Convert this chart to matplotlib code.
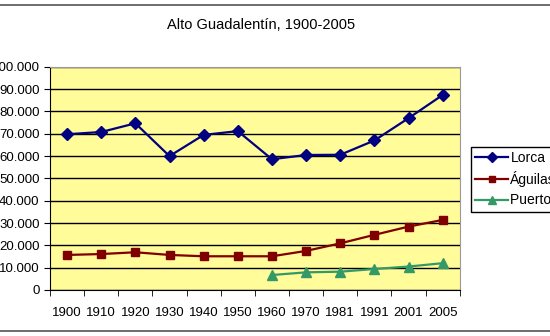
import matplotlib.pyplot as plt
from matplotlib.lines import Line2D

# Poblacion del Alto Guadalentin por municipio
anios = ["1900", "1910", "1920", "1930", "1940", "1950", "1960", "1970", "1981", "1991", "2001", "2005"]
lorca = [69800, 70800, 74700, 60000, 69500, 71200, 58600, 60500, 60600, 67000, 77000, 87400]
aguilas = [15700, 16100, 16900, 15700, 15100, 15100, 15100, 17500, 20900, 24700, 28400, 31400]
puerto_anios = anios[6:]
puerto = [6700, 7900, 8200, 9400, 10500, 12000]

plt.rcParams["font.family"] = ["Liberation Sans", "DejaVu Sans"]

fig = plt.figure(figsize=(5.5, 3.36), dpi=100)
ax = fig.add_axes([0.0909, 0.137, 0.745, 0.664])
ax.set_facecolor("#FFFC99")

x = list(range(len(anios)))
x_puerto = x[6:]

ax.plot(x, lorca, color="#000080", marker="D", markersize=6.5, linewidth=1.6, label="Lorca")
ax.plot(x, aguilas, color="#800000", marker="s", markersize=6, linewidth=1.6, label="Águilas")
ax.plot(x_puerto, puerto, color="#339966", marker="^", markersize=6.5, linewidth=1.6, label="Puerto Lumbreras")

ax.set_xlim(-0.5, len(anios) - 0.5)
ax.set_ylim(0, 100000)
ax.set_yticks(range(0, 100001, 10000))
ax.set_yticklabels(["0"] + [f"{v // 1000}.000" for v in range(10000, 100001, 10000)])
ax.set_xticks(x)
ax.set_xticklabels(anios)
ax.set_xticks([i - 0.5 for i in range(len(anios) + 1)], minor=True)
ax.tick_params(axis="x", which="major", length=0, pad=12, labelsize=9.5)
ax.tick_params(axis="x", which="minor", length=4, direction="out")
ax.tick_params(axis="y", length=4, direction="out", labelsize=9.5)
ax.grid(True, axis="y", color="black", linewidth=1)
ax.set_axisbelow(True)

for lado in ["top", "right"]:
    ax.spines[lado].set_color("#999999")
for lado in ["left", "bottom"]:
    ax.spines[lado].set_color("black")

fig.text(0.475, 0.925, "Alto Guadalentín, 1900-2005", ha="center", va="center", fontsize=10.5)

leg = ax.legend(loc="upper left", bbox_to_anchor=(0.856, 0.563), bbox_transform=fig.transFigure,
                borderaxespad=0, fancybox=False, edgecolor="black", framealpha=1, fontsize=10,
                handlelength=2.4, borderpad=0.3, labelspacing=0.45, handletextpad=0.15,
                markerscale=0.8)
leg.get_frame().set_linewidth(1)

# bordes superior e inferior del area del grafico
fig.add_artist(Line2D([0, 1], [0.985, 0.985], transform=fig.transFigure, color="#555555", linewidth=1.2))
fig.add_artist(Line2D([0, 1], [0.015, 0.015], transform=fig.transFigure, color="#555555", linewidth=1.2))

plt.savefig("out.png", dpi=100)
plt.close()
